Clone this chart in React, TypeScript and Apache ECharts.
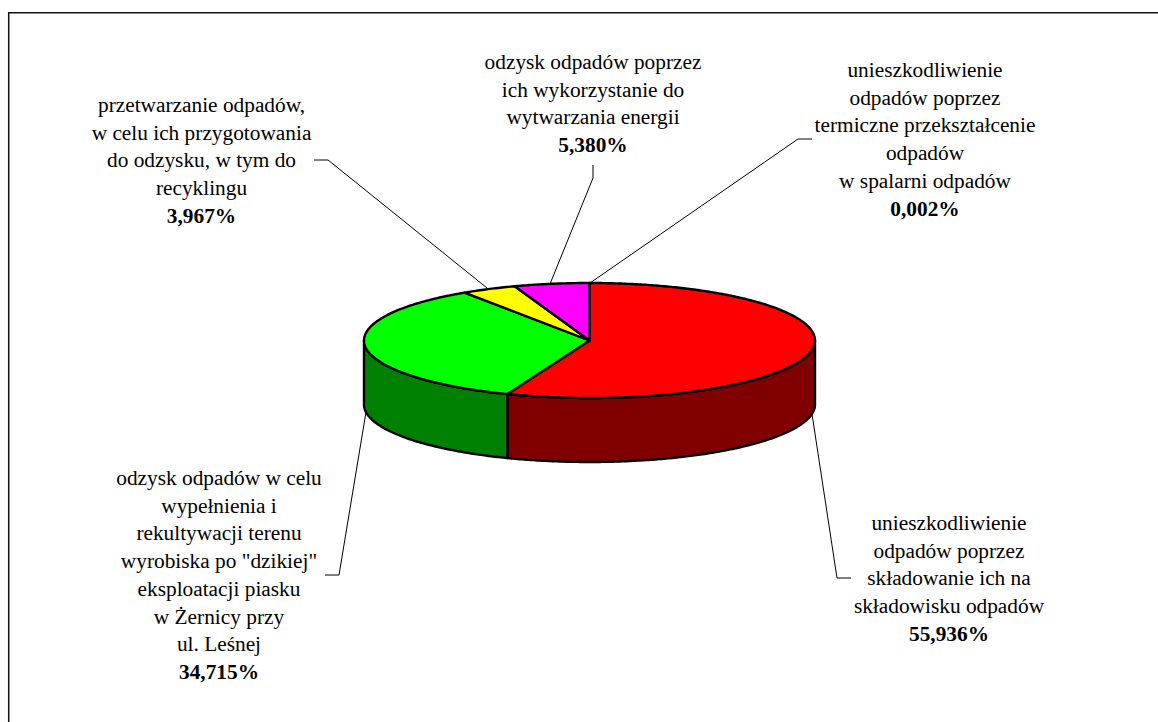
import React, { useEffect, useRef } from "react";
import * as echarts from "echarts";

// ---- data ----
const categories = [
  "unieszkodliwienie\nodpadów poprzez\nskładowanie ich na\nskładowisku odpadów",
  "odzysk odpadów w celu\nwypełnienia i\nrekultywacji terenu\nwyrobiska po \"dzikiej\"\neksploatacji piasku\nw Żernicy przy\nul. Leśnej",
  "przetwarzanie odpadów,\nw celu ich przygotowania\ndo odzysku, w tym do\nrecyklingu",
  "odzysk odpadów poprzez\nich wykorzystanie do\nwytwarzania energii",
  "unieszkodliwienie\nodpadów poprzez\ntermiczne przekształcenie\nodpadów\nw spalarni odpadów",
];
const values = [55.936, 34.715, 3.967, 5.38, 0.002];
const topColors = ["#ff0000", "#00ff00", "#ffff00", "#ff00ff", "#00ffff"];
const sideColors = ["#800000", "#008000", "#808000", "#800080", "#008080"];

// ---- layout ----
const W = 1158;
const H = 722;
const CX = 589.5;
const CY = 340.5;
const RX = 225.5;
const RY = 57.5;
const DEPTH = 64;
const FONT = "'Liberation Serif', 'Times New Roman', serif";
const FONT_SIZE = 21.33;
const LINE_H = 27.7;
// label centre x and first-line centre y
const labelAnchors: [number, number][] = [
  [949, 523],
  [219, 478],
  [201.5, 105],
  [593, 62],
  [925, 70],
];
const leaders: [number, number][][] = [
  [[851, 578], [837, 578], [812, 414]],
  [[325, 575], [339, 575], [366, 412]],
  [[314, 160], [328, 160], [487, 288]],
  [[593, 165], [593, 178], [550, 284]],
  [[812, 139], [798, 139], [590, 283]],
];

const total = values.reduce((a, b) => a + b, 0);
const pct = (v: number) => v.toFixed(3).replace(".", ",") + "%";
const topPt = (a: number): [number, number] => [CX + RX * Math.sin(a), CY - RY * Math.cos(a)];

function arcPts(a0: number, a1: number): [number, number][] {
  const n = Math.max(2, Math.ceil(Math.abs(a1 - a0) / 0.01));
  const pts: [number, number][] = [];
  for (let i = 0; i <= n; i++) pts.push(topPt(a0 + ((a1 - a0) * i) / n));
  return pts;
}

const startAngles: number[] = [];
values.reduce((acc, v) => {
  startAngles.push(acc);
  return acc + (v / total) * Math.PI * 2;
}, 0);

const edge = { stroke: "#000", lineWidth: 2.4, lineJoin: "round" as const };

function renderSlice(_: any, api: any) {
  const i = api.value(0) as number;
  const a0 = startAngles[i];
  const a1 = a0 + (api.value(1) / total) * Math.PI * 2;
  const children: any[] = [];
  // outer wall: only the part of the arc facing the viewer (PI/2 .. 3PI/2)
  const s0 = Math.max(a0, Math.PI / 2);
  const s1 = Math.min(a1, (Math.PI * 3) / 2);
  if (s1 > s0) {
    const upper = arcPts(s0, s1);
    const lower = upper.slice().reverse().map(([x, y]) => [x, y + DEPTH]);
    children.push({
      type: "polygon",
      shape: { points: [...upper, ...lower] },
      style: { fill: sideColors[i], ...edge },
    });
  }
  if (a1 - a0 > 0.001) {
    children.push({
      type: "polygon",
      shape: { points: [[CX, CY], ...arcPts(a0, a1)] },
      style: { fill: topColors[i], ...edge },
    });
  }
  return { type: "group", children };
}

function renderLeader(_: any, api: any) {
  const i = api.value(0) as number;
  return {
    type: "polyline",
    shape: { points: leaders[i] },
    style: { stroke: "#000", lineWidth: 1, fill: "none" },
    silent: true,
  };
}

function renderLabel(_: any, api: any) {
  const i = api.value(0) as number;
  const [x, y] = labelAnchors[i];
  const lines = categories[i].split("\n");
  const children: any[] = lines.map((line, k) => ({
    type: "text",
    style: {
      x,
      y: y + k * LINE_H,
      text: line,
      align: "center",
      verticalAlign: "middle",
      font: `${FONT_SIZE}px ${FONT}`,
      fill: "#000",
    },
  }));
  children.push({
    type: "text",
    style: {
      x,
      y: y + lines.length * LINE_H,
      text: pct(api.value(1)),
      align: "center",
      verticalAlign: "middle",
      font: `bold ${FONT_SIZE}px ${FONT}`,
      fill: "#000",
    },
  });
  return { type: "group", children };
}

export default function App() {
  const ref = useRef<HTMLDivElement>(null);
  useEffect(() => {
    document.body.style.margin = "0";
    const chart = echarts.init(ref.current!, undefined, { renderer: "svg" });
    const rows = values.map((v, i) => [i, v]);
    chart.setOption({
      animation: false,
      backgroundColor: "#fff",
      graphic: [
        {
          type: "polyline",
          shape: { points: [[8.7, 722], [8.7, 12.7], [1158, 12.7]] },
          style: { fill: "none", stroke: "#111", lineWidth: 1.5 },
          silent: true,
        },
      ],
      xAxis: { show: false, min: 0, max: 1 },
      yAxis: { show: false, min: 0, max: 1 },
      grid: { left: 0, right: 0, top: 0, bottom: 0 },
      series: [
        { type: "custom", coordinateSystem: "none", data: rows, renderItem: renderLeader, silent: true, z: 1 },
        { type: "custom", coordinateSystem: "none", data: rows, renderItem: renderSlice, silent: true, z: 2 },
        { type: "custom", coordinateSystem: "none", data: rows, renderItem: renderLabel, silent: true, z: 3 },
      ],
    });
    return () => chart.dispose();
  }, []);
  return <div ref={ref} style={{ position: "absolute", left: 0, top: 0, width: W, height: H }} />;
}
